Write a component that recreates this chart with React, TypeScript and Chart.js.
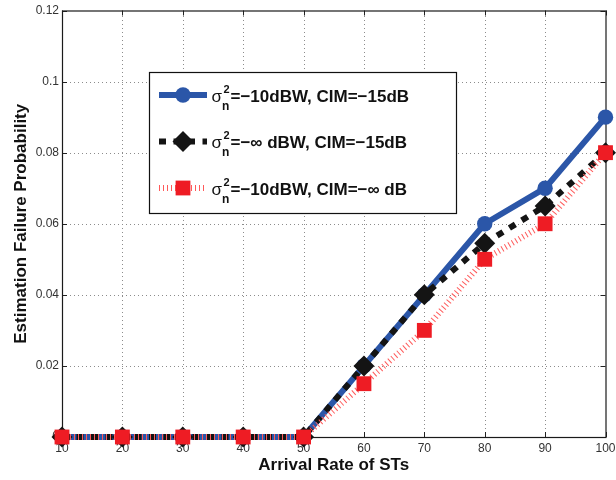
import React, { useEffect, useRef } from 'react';
import { Chart, registerables } from 'chart.js';

Chart.register(...registerables);

// ---------- data ----------
const arrivalRates = [10, 20, 30, 40, 50, 60, 70, 80, 90, 100];
const noiseCim15 = [0, 0, 0, 0, 0, 0.02, 0.04, 0.06, 0.07, 0.09];
const noNoiseCim15 = [0, 0, 0, 0, 0, 0.02, 0.04, 0.0545, 0.065, 0.08];
const noiseNoCim = [0, 0, 0, 0, 0, 0.015, 0.03, 0.05, 0.06, 0.08];
const yTickValues = [0, 0.02, 0.04, 0.06, 0.08, 0.1, 0.12];
const legendTexts = ['=−10dBW, CIM=−15dB', '=−∞ dBW, CIM=−15dB', '=−10dBW, CIM=−∞ dB'];
const seriesNames = legendTexts.map((t) => 'σn²' + t);
const xTitle = 'Arrival Rate of STs';
const yTitle = 'Estimation Failure Probability';

// ---------- styles ----------
const FONT = '"Liberation Sans", Arial, Helvetica, sans-serif';
const BLUE = '#2b56a8';
const BLACK = '#141414';
const RED_LINE = '#ff5a5a';
const RED_FILL = '#ee1c24';

function drawDiamond(ctx: CanvasRenderingContext2D, x: number, y: number, r: number) {
  ctx.beginPath();
  ctx.moveTo(x - r, y);
  ctx.lineTo(x, y - r);
  ctx.lineTo(x + r, y);
  ctx.lineTo(x, y + r);
  ctx.closePath();
  ctx.fill();
}

const framePlugin = {
  id: 'matlabFrame',
  beforeDatasetsDraw(chart: any) {
    const { ctx, chartArea } = chart;
    const { left, right, top, bottom } = chartArea;
    const xs = chart.scales.x;
    const ys = chart.scales.y;
    ctx.save();
    // dotted grid
    ctx.strokeStyle = '#8c8c8c';
    ctx.lineWidth = 1;
    ctx.setLineDash([1, 3]);
    xs.ticks.forEach((t: any) => {
      const px = Math.round(xs.getPixelForValue(t.value)) + 0.5;
      if (px <= left + 2 || px >= right - 2) return;
      ctx.beginPath();
      ctx.moveTo(px, bottom);
      ctx.lineTo(px, top);
      ctx.stroke();
    });
    ys.ticks.forEach((t: any) => {
      const py = Math.round(ys.getPixelForValue(t.value)) + 0.5;
      if (py <= top + 2 || py >= bottom - 2) return;
      ctx.beginPath();
      ctx.moveTo(left, py);
      ctx.lineTo(right, py);
      ctx.stroke();
    });
    ctx.setLineDash([]);
    // inner tick marks
    ctx.strokeStyle = '#222';
    xs.ticks.forEach((t: any) => {
      const px = Math.round(xs.getPixelForValue(t.value)) + 0.5;
      ctx.beginPath();
      ctx.moveTo(px, bottom);
      ctx.lineTo(px, bottom - 5);
      ctx.moveTo(px, top);
      ctx.lineTo(px, top + 5);
      ctx.stroke();
    });
    ys.ticks.forEach((t: any) => {
      const py = Math.round(ys.getPixelForValue(t.value)) + 0.5;
      ctx.beginPath();
      ctx.moveTo(left, py);
      ctx.lineTo(left + 5, py);
      ctx.moveTo(right, py);
      ctx.lineTo(right - 5, py);
      ctx.stroke();
    });
    // box
    ctx.strokeStyle = '#1a1a1a';
    ctx.lineWidth = 1.2;
    ctx.strokeRect(left + 0.5, top + 0.5, right - left, bottom - top);
    ctx.restore();
  },
};

const legendPlugin = {
  id: 'insideLegend',
  afterDraw(chart: any) {
    const ctx: CanvasRenderingContext2D = chart.ctx;
    ctx.save();
    const bx = 149.5, by = 72.5, bw = 307, bh = 141;
    ctx.fillStyle = '#ffffff';
    ctx.fillRect(bx, by, bw, bh);
    ctx.strokeStyle = '#111';
    ctx.lineWidth = 1.2;
    ctx.strokeRect(bx, by, bw, bh);

    const centers = [95, 141.5, 188];
    const x0 = 159, x1 = 207, mx = 183;
    centers.forEach((cy, i) => {
      ctx.save();
      ctx.lineWidth = 6;
      ctx.lineCap = 'butt';
      if (i === 0) {
        ctx.strokeStyle = BLUE;
        ctx.setLineDash([]);
        ctx.beginPath(); ctx.moveTo(x0, cy); ctx.lineTo(x1, cy); ctx.stroke();
        ctx.fillStyle = BLUE;
        ctx.beginPath(); ctx.arc(mx, cy, 7.7, 0, Math.PI * 2); ctx.fill();
      } else if (i === 1) {
        ctx.strokeStyle = BLACK;
        ctx.setLineDash([7, 7.5]);
        ctx.beginPath(); ctx.moveTo(x0, cy); ctx.lineTo(x1, cy); ctx.stroke();
        ctx.fillStyle = BLACK;
        drawDiamond(ctx, mx, cy, 10.5);
      } else {
        ctx.strokeStyle = RED_LINE;
        ctx.setLineDash([1, 3]);
        ctx.beginPath(); ctx.moveTo(x0, cy); ctx.lineTo(x1, cy); ctx.stroke();
        ctx.fillStyle = RED_FILL;
        ctx.fillRect(mx - 7.4, cy - 7.4, 14.8, 14.8);
      }
      ctx.restore();

      const base = cy + 6.8;
      ctx.fillStyle = '#111';
      ctx.textBaseline = 'alphabetic';
      ctx.textAlign = 'left';
      ctx.font = `17px ${FONT}`;
      ctx.fillText('σ', 211.5, base);
      ctx.font = `bold 11px ${FONT}`;
      ctx.fillText('2', 223.5, base - 9);
      ctx.font = `bold 12px ${FONT}`;
      ctx.fillText('n', 222, base + 8);
      ctx.font = `bold 17px ${FONT}`;
      ctx.fillText(legendTexts[i], 230.5, base);
    });
    ctx.restore();
  },
};

export default function App() {
  const canvasRef = useRef<HTMLCanvasElement | null>(null);

  useEffect(() => {
    const canvas = canvasRef.current;
    if (!canvas) return;
    const toPoints = (vals: number[]) => arrivalRates.map((x, i) => ({ x, y: vals[i] }));

    const chart = new Chart(canvas, {
      type: 'line',
      data: {
        datasets: [
          {
            label: seriesNames[0],
            data: toPoints(noiseCim15),
            borderColor: BLUE,
            backgroundColor: BLUE,
            borderWidth: 6,
            pointStyle: 'circle',
            pointRadius: 7.7,
            pointBorderWidth: 0,
            pointBackgroundColor: BLUE,
            order: 3,
            clip: false,
          },
          {
            label: seriesNames[1],
            data: toPoints(noNoiseCim15),
            borderColor: BLACK,
            backgroundColor: BLACK,
            borderWidth: 6,
            borderDash: [7, 7.5],
            pointStyle: 'rectRot',
            pointRadius: 10.5,
            pointBorderWidth: 0,
            pointBackgroundColor: BLACK,
            order: 2,
            clip: false,
          },
          {
            label: seriesNames[2],
            data: toPoints(noiseNoCim),
            borderColor: RED_LINE,
            backgroundColor: RED_FILL,
            borderWidth: 6,
            borderDash: [1, 3],
            pointStyle: 'rect',
            pointRadius: 10.5,
            pointBorderWidth: 0,
            pointBackgroundColor: RED_FILL,
            order: 1,
            clip: false,
          },
        ] as any,
      },
      options: {
        responsive: false,
        animation: false,
        events: [],
        layout: { padding: { left: 0, right: 7, top: 7, bottom: 0 } },
        plugins: {
          legend: { display: false },
          tooltip: { enabled: false },
        },
        scales: {
          x: {
            type: 'linear',
            min: 10,
            max: 100,
            grid: { display: false, drawTicks: false },
            border: { display: false },
            ticks: {
              stepSize: 10,
              padding: 4,
              color: '#333',
              font: { family: FONT, size: 12 },
              maxRotation: 0,
              autoSkip: false,
            },
            title: {
              display: true,
              text: xTitle,
              color: '#111',
              font: { family: FONT, size: 17, weight: 'bold' },
              padding: { top: 0, bottom: 4.8 },
            },
            afterFit(scale: any) {
              scale.height = 43;
              scale.paddingLeft = 0;
              scale.paddingRight = 0;
            },
          },
          y: {
            type: 'linear',
            min: 0,
            max: 0.12,
            grid: { display: false, drawTicks: false },
            border: { display: false },
            afterBuildTicks(scale: any) {
              scale.ticks = yTickValues.map((v) => ({ value: v }));
            },
            ticks: {
              padding: 3,
              color: '#333',
              font: { family: FONT, size: 12 },
              callback: (v: any) => String(+Number(v).toFixed(2)),
            },
            title: {
              display: true,
              text: yTitle,
              color: '#111',
              font: { family: FONT, size: 17, weight: 'bold' },
              padding: { top: 11.3, bottom: 0 },
            },
            afterFit(scale: any) {
              scale.width = 62;
              scale.paddingTop = 0;
              scale.paddingBottom = 0;
            },
          },
        },
      } as any,
      plugins: [framePlugin, legendPlugin],
    });

    return () => chart.destroy();
  }, []);

  return (
    <div style={{ position: 'absolute', left: 0, top: 0, width: 616, height: 480, background: '#fff' }}>
      <canvas ref={canvasRef} width={616} height={480} style={{ display: 'block' }} />
    </div>
  );
}
